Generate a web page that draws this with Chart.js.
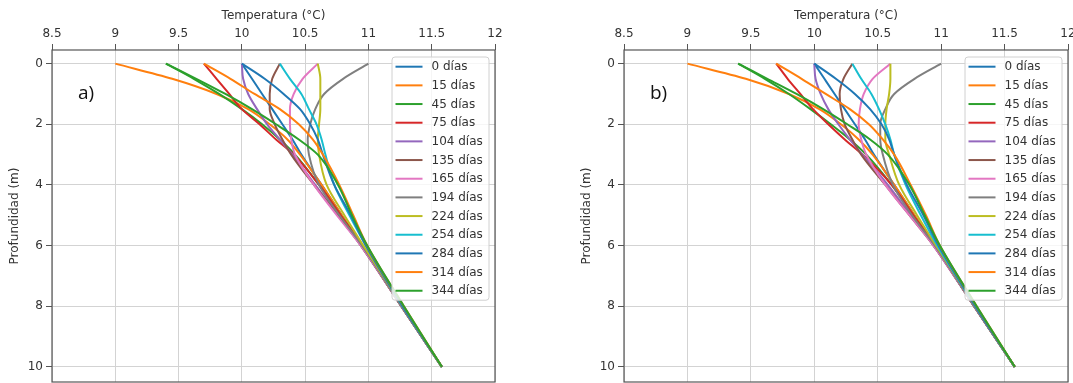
<!DOCTYPE html>
<html>
<head>
<meta charset="utf-8">
<title>Perfiles de temperatura</title>
<script src="https://cdn.jsdelivr.net/npm/chart.js"></script>
<style>
  html, body { margin: 0; padding: 0; background: #fff; overflow: hidden; }
  .panel { position: absolute; top: 0; height: 400px; }
  #panelA { left: 0; width: 520px; }
  #panelB { left: 572px; width: 510px; }
</style>
</head>
<body>
<div class="panel" id="panelA"><canvas id="chartA"></canvas></div>
<div class="panel" id="panelB"><canvas id="chartB"></canvas></div>
<script>
// Depths (m) at which each profile was read
const depths = [0, 0.5, 1, 1.5, 2, 2.5, 3, 4, 5, 6, 8, 10];
const dayLabels = ['0 días', '15 días', '45 días', '75 días', '104 días', '135 días', '165 días',
    '194 días', '224 días', '254 días', '284 días', '314 días', '344 días'];
const lineColors = ['#1f77b4', '#ff7f0e', '#2ca02c', '#d62728', '#9467bd', '#8c564b', '#e377c2',
    '#7f7f7f', '#bcbd22', '#17becf', '#1f77b4', '#ff7f0e', '#2ca02c'];
const tempTicks = [8.5, 9, 9.5, 10, 10.5, 11, 11.5, 12];
const depthTicks = [0, 2, 4, 6, 8, 10];

// Panel a) temperatures (°C)
const a0 = [10.0, 10.08, 10.16, 10.24, 10.32, 10.40, 10.47, 10.63, 10.79, 10.95, 11.26, 11.58];
const a15 = [9.0, 9.45, 9.80, 10.05, 10.22, 10.36, 10.46, 10.63, 10.79, 10.95, 11.26, 11.58];
const a45 = [9.4, 9.62, 9.82, 10.0, 10.16, 10.30, 10.42, 10.61, 10.78, 10.95, 11.26, 11.58];
const a75 = [9.7, 9.8, 9.9, 10.0, 10.14, 10.27, 10.41, 10.61, 10.78, 10.95, 11.26, 11.58];
const a104 = [10.0, 10.01, 10.05, 10.12, 10.20, 10.30, 10.40, 10.58, 10.76, 10.94, 11.26, 11.58];
const a135 = [10.3, 10.24, 10.22, 10.22, 10.26, 10.32, 10.39, 10.57, 10.76, 10.94, 11.26, 11.58];
const a165 = [10.6, 10.48, 10.41, 10.38, 10.38, 10.39, 10.42, 10.57, 10.75, 10.94, 11.26, 11.58];
const a194 = [11.0, 10.80, 10.65, 10.58, 10.54, 10.52, 10.53, 10.61, 10.77, 10.95, 11.26, 11.58];
const a224 = [10.6, 10.62, 10.62, 10.62, 10.61, 10.60, 10.61, 10.67, 10.81, 10.96, 11.27, 11.58];
const a254 = [10.3, 10.38, 10.47, 10.53, 10.59, 10.63, 10.66, 10.73, 10.85, 10.98, 11.27, 11.58];
const a284 = [10.0, 10.18, 10.33, 10.46, 10.54, 10.60, 10.64, 10.73, 10.86, 10.98, 11.27, 11.58];
const a314 = [9.7, 9.91, 10.10, 10.30, 10.45, 10.56, 10.64, 10.77, 10.88, 10.99, 11.28, 11.58];
const a344 = [9.4, 9.64, 9.87, 10.08, 10.27, 10.45, 10.60, 10.76, 10.87, 10.99, 11.28, 11.58];

// Panel b) temperatures (°C)
const b0 = [10.0, 10.08, 10.16, 10.24, 10.32, 10.40, 10.47, 10.63, 10.79, 10.95, 11.26, 11.58];
const b15 = [9.0, 9.46, 9.80, 10.04, 10.21, 10.35, 10.46, 10.63, 10.79, 10.95, 11.26, 11.58];
const b45 = [9.4, 9.61, 9.80, 9.97, 10.13, 10.28, 10.41, 10.61, 10.78, 10.95, 11.26, 11.58];
const b75 = [9.7, 9.79, 9.89, 9.99, 10.11, 10.24, 10.38, 10.61, 10.78, 10.95, 11.26, 11.58];
const b104 = [10.0, 10.01, 10.05, 10.11, 10.19, 10.28, 10.38, 10.58, 10.76, 10.94, 11.26, 11.58];
const b135 = [10.3, 10.23, 10.20, 10.21, 10.24, 10.30, 10.37, 10.56, 10.75, 10.94, 11.26, 11.58];
const b165 = [10.6, 10.46, 10.39, 10.36, 10.35, 10.37, 10.41, 10.56, 10.75, 10.94, 11.26, 11.58];
const b194 = [11.0, 10.79, 10.63, 10.56, 10.52, 10.52, 10.54, 10.62, 10.77, 10.95, 11.26, 11.58];
const b224 = [10.6, 10.60, 10.59, 10.57, 10.56, 10.56, 10.59, 10.67, 10.81, 10.96, 11.27, 11.58];
const b254 = [10.3, 10.37, 10.45, 10.51, 10.56, 10.60, 10.63, 10.72, 10.84, 10.97, 11.27, 11.58];
const b284 = [10.0, 10.17, 10.32, 10.44, 10.53, 10.59, 10.63, 10.73, 10.86, 10.98, 11.27, 11.58];
const b314 = [9.7, 9.90, 10.09, 10.28, 10.43, 10.54, 10.63, 10.76, 10.88, 10.99, 11.28, 11.58];
const b344 = [9.4, 9.63, 9.86, 10.07, 10.26, 10.44, 10.58, 10.75, 10.87, 10.99, 11.28, 11.58];

const seriesA = [a0, a15, a45, a75, a104, a135, a165, a194, a224, a254, a284, a314, a344];
const seriesB = [b0, b15, b45, b75, b104, b135, b165, b194, b224, b254, b284, b314, b344];

Chart.defaults.font.family = "'DejaVu Sans', sans-serif";
Chart.defaults.font.size = 12;
Chart.defaults.color = '#333';

// Legend drawn inside the plot, top right (like matplotlib's loc='upper right')
const insideLegend = {
    id: 'insideLegend',
    afterDatasetsDraw(chart, args, opts) {
        const ctx = chart.ctx;
        const area = chart.chartArea;
        const sets = chart.data.datasets;
        const rowH = 18.67;
        const w = 97;
        const left = area.right - opts.offsetRight - w;
        const top = area.top + 7;
        const h = rowH * sets.length + 0.5;

        ctx.save();
        ctx.fillStyle = 'rgba(255,255,255,0.8)';
        ctx.strokeStyle = '#d0d0d0';
        ctx.lineWidth = 1;
        ctx.beginPath();
        if (ctx.roundRect) ctx.roundRect(left, top, w, h, 3);
        else ctx.rect(left, top, w, h);
        ctx.fill();
        ctx.stroke();

        ctx.font = "12px 'DejaVu Sans', sans-serif";
        ctx.textBaseline = 'middle';
        ctx.textAlign = 'left';
        sets.forEach((ds, i) => {
            const y = top + 9.7 + i * rowH;
            ctx.strokeStyle = ds.borderColor;
            ctx.lineWidth = 2;
            ctx.beginPath();
            ctx.moveTo(left + 3.5, y);
            ctx.lineTo(left + 30.5, y);
            ctx.stroke();
            ctx.fillStyle = '#333';
            ctx.fillText(ds.label, left + 39.5, y + 0.5);
        });
        ctx.restore();
    }
};

// Frame around the plot area plus the panel tag "a)" / "b)"
const frameAndTag = {
    id: 'frameAndTag',
    afterDraw(chart, args, opts) {
        const ctx = chart.ctx;
        const area = chart.chartArea;
        ctx.save();
        ctx.strokeStyle = '#555';
        ctx.lineWidth = 1.2;
        ctx.strokeRect(area.left, area.top, area.right - area.left, area.bottom - area.top);
        ctx.fillStyle = '#111';
        ctx.font = "19px 'Open Sans', sans-serif";
        ctx.textBaseline = 'alphabetic';
        ctx.fillText(opts.text, area.left + 26, area.top + 49);
        ctx.restore();
    }
};

function buildDatasets(series) {
    return series.map((temps, i) => ({
        label: dayLabels[i],
        data: temps.map((t, k) => ({ x: t, y: depths[k] })),
        borderColor: lineColors[i],
        backgroundColor: lineColors[i],
        borderWidth: 2,
        pointRadius: 0,
        fill: false,
        cubicInterpolationMode: 'monotone',
        order: series.length - 1 - i   // later days drawn on top
    }));
}

function makeChart(canvasId, series, tag, padRight) {
    const ctx = document.getElementById(canvasId).getContext('2d');
    return new Chart(ctx, {
        type: 'line',
        data: { datasets: buildDatasets(series) },
        options: {
            responsive: true,
            maintainAspectRatio: false,
            animation: false,
            indexAxis: 'y',
            layout: { padding: { left: 0, top: 0, right: padRight, bottom: 18 } },
            plugins: {
                legend: { display: false },
                tooltip: { enabled: false },
                insideLegend: { offsetRight: 6 },
                frameAndTag: { text: tag }
            },
            scales: {
                x: {
                    type: 'linear',
                    position: 'top',
                    min: 8.5,
                    max: 12,
                    afterBuildTicks: s => { s.ticks = tempTicks.map(v => ({ value: v })); },
                    afterFit: s => { s.height = 50; s.paddingLeft = 0; s.paddingRight = 0; },
                    ticks: { padding: 3, maxRotation: 0, callback: v => String(v) },
                    grid: { color: '#d3d3d3', tickColor: '#555', tickLength: 6 },
                    border: { display: false },
                    title: { display: true, text: 'Temperatura (°C)', padding: { top: 9, bottom: 0 } }
                },
                y: {
                    type: 'linear',
                    reverse: true,
                    min: -0.45,
                    max: 10.5,
                    afterBuildTicks: s => { s.ticks = depthTicks.map(v => ({ value: v })); },
                    afterFit: s => { s.width = 52; s.paddingTop = 0; s.paddingBottom = 0; },
                    ticks: { padding: 3, callback: v => String(v) },
                    grid: { color: '#d3d3d3', tickColor: '#555', tickLength: 6 },
                    border: { display: false },
                    title: { display: true, text: 'Profundidad (m)', padding: { top: 8, bottom: 0 } }
                }
            }
        },
        plugins: [insideLegend, frameAndTag]
    });
}

makeChart('chartA', seriesA, 'a)', 25);
makeChart('chartB', seriesB, 'b)', 14);
</script>
</body>
</html>
